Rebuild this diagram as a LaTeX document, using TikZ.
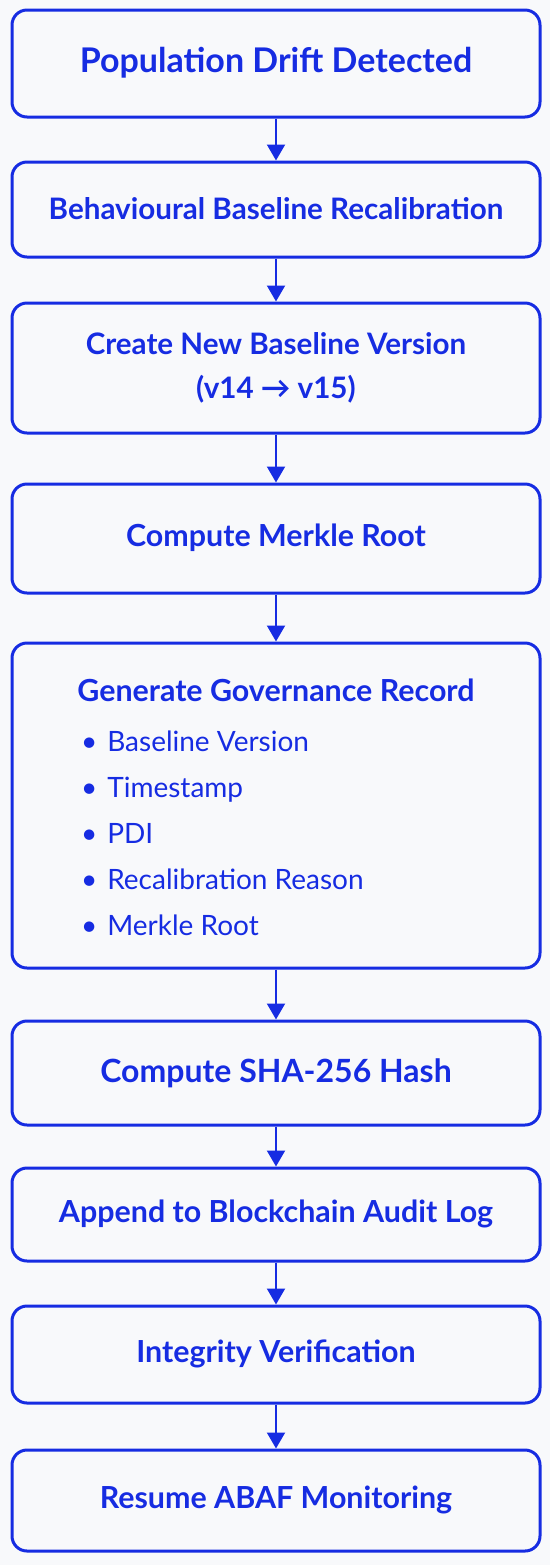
\documentclass[tikz,border=0pt]{standalone}
\usepackage{fontspec}
\setmainfont{Lato}
\usetikzlibrary{arrows.meta}
\definecolor{flowblue}{RGB}{22,44,226}
\definecolor{paper}{RGB}{248,249,251}
\tikzset{
  stepbox/.style={draw=flowblue, line width=1.5pt, rounded corners=7.5pt, minimum width=264pt, inner sep=0pt},
  steptext/.style={text=flowblue, font=\bfseries\fontsize{15.2}{17}\selectfont, align=center},
  flow/.style={draw=flowblue, line width=1pt, -{Triangle[width=9pt,length=8pt]}}
}
\begin{document}
\begin{tikzpicture}[x=0.5pt, y=-0.5pt]
\fill[paper] (0,0) rectangle (550,1565);
\useasboundingbox (0,0) rectangle (550,1565);
\node[stepbox, minimum height=53.5pt](drift) at (276, 63.5) {};
\node[stepbox, minimum height=47.5pt](recal) at (276, 209.5) {};
\node[stepbox, minimum height=65pt](version) at (276, 368) {};
\node[stepbox, minimum height=54.5pt](merkle) at (276, 538.5) {};
\node[stepbox, minimum height=162.5pt](gov) at (276, 805.5) {};
\node[stepbox, minimum height=52pt](sha) at (276, 1073) {};
\node[stepbox, minimum height=46.5pt](chain) at (276, 1214.5) {};
\node[stepbox, minimum height=48.5pt](verify) at (276, 1354.5) {};
\node[stepbox, minimum height=50.5pt](resume) at (276, 1500.5) {};
\node[steptext, font=\bfseries\fontsize{17}{19}\selectfont](drifttext) at (276, 63) {Population Drift Detected};
\node[steptext, font=\bfseries\fontsize{14.8}{17}\selectfont](recaltext) at (276, 209) {Behavioural Baseline Recalibration};
\node[steptext, font=\bfseries\fontsize{14.8}{22}\selectfont](versiontext) at (276, 368) {Create New Baseline Version\\(v14 → v15)};
\node[steptext](merkletext) at (276, 538) {Compute Merkle Root};
\node[steptext](govtitle) at (276, 690) {Generate Governance Record};
\node[text=flowblue, font=\fontsize{14}{23}\selectfont, align=left, anchor=north west](govlist) at (74, 724)
  {\textbullet\hspace{5pt}Baseline Version\\
   \textbullet\hspace{5pt}Timestamp\\
   \textbullet\hspace{5pt}PDI\\
   \textbullet\hspace{5pt}Recalibration Reason\\
   \textbullet\hspace{5pt}Merkle Root};
\node[steptext, font=\bfseries\fontsize{16}{17}\selectfont](shatext) at (276, 1073) {Compute SHA-256 Hash};
\node[steptext](chaintext) at (276, 1214) {Append to Blockchain Audit Log};
\node[steptext](verifytext) at (276, 1354) {Integrity Verification};
\node[steptext](resumetext) at (276, 1500) {Resume ABAF Monitoring};
\draw[flow] (drift) -- (recal);
\draw[flow] (recal) -- (version);
\draw[flow] (version) -- (merkle);
\draw[flow] (merkle) -- (gov);
\draw[flow] (gov) -- (sha);
\draw[flow] (sha) -- (chain);
\draw[flow] (chain) -- (verify);
\draw[flow] (verify) -- (resume);
\end{tikzpicture}
\end{document}
